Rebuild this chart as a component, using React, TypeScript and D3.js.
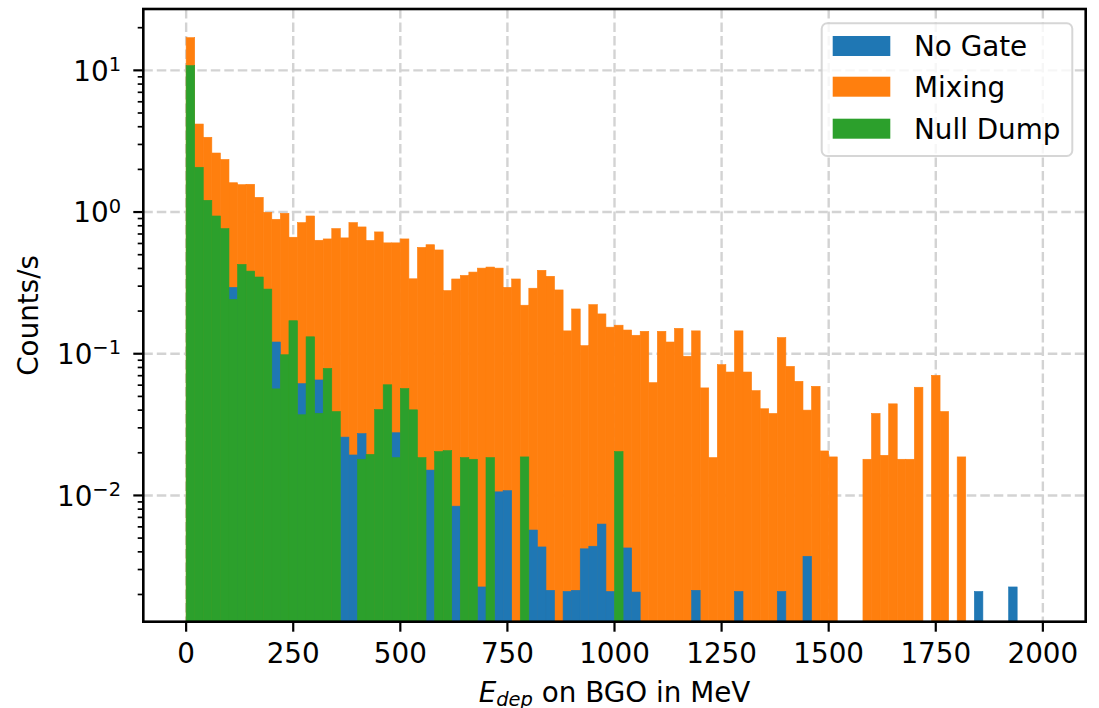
import React from 'react';
import * as d3 from 'd3';

// Histogram binning: 20 MeV bins from 0 to 2000 MeV
const BIN_WIDTH = 20;
const binStarts: number[] = d3.range(0, 2000, BIN_WIDTH);

// Counts/s per bin
const noGate: number[] = [
  0, 0, 0, 0, 0, 0.294, 0, 0, 0, 0,
  0.121, 0, 0, 0.0615, 0, 0.0653, 0, 0, 0.0258, 0.0193,
  0.0273, 0, 0, 0, 0.0277, 0, 0, 0, 0.0151, 0,
  0, 0.0084, 0, 0, 0.00226, 0, 0.0106, 0.0108, 0, 0,
  0.0057, 0.00433, 0.00214, 0, 0.0021, 0.00214, 0.0042, 0.00438, 0.00628, 0.0021,
  0, 0.00426, 0.00208, 0, 0, 0, 0, 0, 0, 0.00214,
  0, 0, 0, 0, 0.0021, 0, 0, 0, 0, 0.0021,
  0, 0, 0.00372, 0, 0, 0, 0, 0, 0, 0,
  0, 0, 0, 0, 0, 0, 0, 0, 0, 0,
  0, 0, 0.0021, 0, 0, 0, 0.00226, 0, 0, 0,
];

const mixing: number[] = [
  17.0, 4.18, 3.37, 2.61, 2.35, 1.61, 1.56, 1.57, 1.27, 0.995,
  0.889, 0.98, 0.664, 0.842, 0.938, 0.632, 0.646, 0.764, 0.657, 0.842,
  0.785, 0.63, 0.724, 0.606, 0.606, 0.646, 0.338, 0.563, 0.588, 0.54,
  0.279, 0.337, 0.357, 0.377, 0.402, 0.409, 0.402, 0.294, 0.337, 0.22,
  0.29, 0.388, 0.352, 0.282, 0.145, 0.207, 0.114, 0.222, 0.191, 0.154,
  0.159, 0.147, 0.135, 0.144, 0.0625, 0.144, 0.121, 0.151, 0.096, 0.145,
  0.0574, 0.0185, 0.0837, 0.0743, 0.145, 0.0743, 0.0549, 0.0409, 0.0379, 0.13,
  0.0814, 0.0639, 0.04, 0.0589, 0.0206, 0.0187, 0, 0, 0, 0.018,
  0.0379, 0.0192, 0.0443, 0.018, 0.018, 0.058, 0, 0.0704, 0.0391, 0,
  0.0187, 0, 0, 0, 0, 0, 0, 0, 0, 0,
];

const nullDump: number[] = [
  10.8, 2.07, 1.21, 0.938, 0.764, 0.242, 0.427, 0.383, 0.348, 0.286,
  0.0565, 0.0984, 0.171, 0.0371, 0.1317, 0.038, 0.0788, 0.0391, 0, 0,
  0.018, 0.0195, 0.0404, 0.0604, 0.0185, 0.0568, 0.0402, 0.0185, 0, 0.0204,
  0.0207, 0, 0.0185, 0.018, 0, 0.0185, 0, 0, 0, 0.0187,
  0, 0, 0, 0, 0, 0, 0, 0, 0, 0,
  0.0204, 0, 0, 0, 0, 0, 0, 0, 0, 0,
  0, 0, 0, 0, 0, 0, 0, 0, 0, 0,
  0, 0, 0, 0, 0, 0, 0, 0, 0, 0,
  0, 0, 0, 0, 0, 0, 0, 0, 0, 0,
  0, 0, 0, 0, 0, 0, 0, 0, 0, 0,
];

const seriesNames = ['No Gate', 'Mixing', 'Null Dump'];
const seriesColors = ['#1f77b4', '#ff7f0e', '#2ca02c'];

const xTickValues = [0, 250, 500, 750, 1000, 1250, 1500, 1750, 2000];
const yMajorExponents = [-2, -1, 0, 1];

const W = 1099;
const H = 708;
const plot = { left: 143.3, right: 1085.7, top: 9, bottom: 621.7 };
const FONT = '"DejaVu Sans", sans-serif';
const FS = 27.8;

const x = d3.scaleLinear().domain([-100, 2100]).range([plot.left, plot.right]);
const y = d3.scaleLog().domain([1.285e-3, 27.1]).range([plot.bottom, plot.top]);

const yMinor: number[] = [];
for (let e = -3; e <= 1; e++) {
  for (let m = 2; m <= 9; m++) {
    const v = m * Math.pow(10, e);
    if (v > y.domain()[0] && v < y.domain()[1]) yMinor.push(v);
  }
}

const gridStyle = { stroke: '#d3d3d3', strokeWidth: 2.4, strokeDasharray: '9.5 4' };

function Bars({ values, color }: { values: number[]; color: string }) {
  return (
    <g fill={color} stroke={color} strokeWidth={0.6}>
      {binStarts.map((b, i) => {
        const v = values[i];
        if (!v) return null;
        const x0 = x(b);
        const x1 = x(b + BIN_WIDTH);
        const yt = y(v);
        return <rect key={i} x={x0} y={yt} width={x1 - x0} height={plot.bottom - yt + 2} />;
      })}
    </g>
  );
}

export default function App() {
  const drawOrder = [
    { values: mixing, color: seriesColors[1] },
    { values: noGate, color: seriesColors[0] },
    { values: nullDump, color: seriesColors[2] },
  ];
  const legendTop = [36, 76.7, 118.7];
  return (
    <svg width={W} height={H} style={{ position: 'absolute', left: 0, top: 0 }} fontFamily={FONT}>
      <rect width={W} height={H} fill="#fff" />
      <defs>
        <clipPath id="plotArea">
          <rect x={plot.left} y={plot.top} width={plot.right - plot.left} height={plot.bottom - plot.top} />
        </clipPath>
      </defs>

      {/* grid below the bars */}
      <g clipPath="url(#plotArea)">
        {xTickValues.map((t) => (
          <line key={'gx' + t} x1={x(t)} x2={x(t)} y1={plot.top} y2={plot.bottom} {...gridStyle} />
        ))}
        {yMajorExponents.map((e) => (
          <line key={'gy' + e} x1={plot.left} x2={plot.right} y1={y(Math.pow(10, e))} y2={y(Math.pow(10, e))} {...gridStyle} />
        ))}
      </g>

      <g clipPath="url(#plotArea)">
        {drawOrder.map((s, i) => (
          <Bars key={i} values={s.values} color={s.color} />
        ))}
      </g>

      {/* x ticks */}
      <g>
        {xTickValues.map((t) => (
          <g key={'xt' + t}>
            <line x1={x(t)} x2={x(t)} y1={plot.bottom} y2={plot.bottom + 10} stroke="#000" strokeWidth={2.2} />
            <text x={x(t)} y={663} textAnchor="middle" fontSize={FS} fill="#000">
              {t}
            </text>
          </g>
        ))}
      </g>

      {/* y ticks */}
      <g>
        {yMinor.map((v, i) => (
          <line key={'ym' + i} x1={plot.left - 5.6} x2={plot.left} y1={y(v)} y2={y(v)} stroke="#000" strokeWidth={1.7} />
        ))}
        {yMajorExponents.map((e) => {
          const yy = y(Math.pow(10, e));
          return (
            <g key={'yt' + e}>
              <line x1={plot.left - 10} x2={plot.left} y1={yy} y2={yy} stroke="#000" strokeWidth={2.2} />
              <text x={121} y={yy + 10.3} textAnchor="end" fontSize={FS} fill="#000">
                <tspan>10</tspan>
                <tspan dy={-9.6} fontSize={FS * 0.7}>
                  {e < 0 ? '\u2212' + Math.abs(e) : String(e)}
                </tspan>
              </text>
            </g>
          );
        })}
      </g>

      {/* axes frame */}
      <rect
        x={plot.left}
        y={plot.top}
        width={plot.right - plot.left}
        height={plot.bottom - plot.top}
        fill="none"
        stroke="#000"
        strokeWidth={2.6}
      />

      {/* axis labels */}
      <text x={(plot.left + plot.right) / 2} y={702} textAnchor="middle" fontSize={FS} fill="#000">
        <tspan fontStyle="italic">E</tspan>
        <tspan fontStyle="italic" fontSize={FS * 0.7} dy={4}>
          dep
        </tspan>
        <tspan dy={-4}> on BGO in MeV</tspan>
      </text>
      <text
        transform={`translate(38, ${(plot.top + plot.bottom) / 2}) rotate(-90)`}
        textAnchor="middle"
        fontSize={FS}
        fill="#000"
      >
        Counts/s
      </text>

      {/* legend */}
      <g>
        <rect
          x={821.7}
          y={23.3}
          width={250.6}
          height={132.7}
          rx={5.5}
          fill="#fff"
          fillOpacity={0.8}
          stroke="#cccccc"
          strokeOpacity={0.8}
          strokeWidth={2}
        />
        {seriesNames.map((name, i) => (
          <g key={name}>
            <rect x={832.7} y={legendTop[i]} width={57.6} height={20} fill={seriesColors[i]} />
            <text x={914} y={legendTop[i] + 20.2} fontSize={FS} fill="#000">
              {name}
            </text>
          </g>
        ))}
      </g>
    </svg>
  );
}
